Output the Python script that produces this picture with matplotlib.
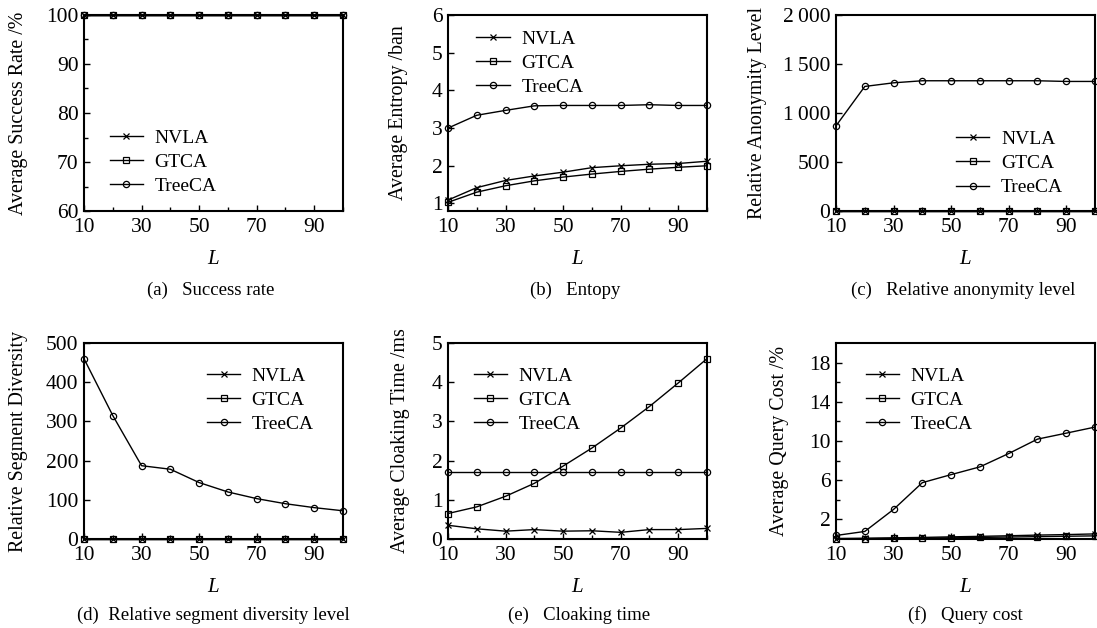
import matplotlib.pyplot as plt
from matplotlib.ticker import FixedLocator, FuncFormatter

plt.rcParams['font.family'] = ['Liberation Serif', 'DejaVu Serif']
plt.rcParams['mathtext.fontset'] = 'custom'
plt.rcParams['mathtext.it'] = 'Liberation Serif:italic'

L = [10, 20, 30, 40, 50, 60, 70, 80, 90, 100]
series_names = ['NVLA', 'GTCA', 'TreeCA']

# (a) success rate
succ_nvla = [100, 100, 100, 100, 100, 100, 100, 100, 100, 100]
succ_gtca = [100, 100, 100, 100, 100, 100, 100, 100, 100, 100]
succ_tree = [100, 100, 100, 100, 100, 100, 100, 100, 100, 100]

# (b) entropy
ent_nvla = [1.09, 1.42, 1.61, 1.73, 1.83, 1.95, 2.00, 2.04, 2.06, 2.12]
ent_gtca = [1.03, 1.30, 1.47, 1.60, 1.70, 1.78, 1.85, 1.91, 1.96, 2.00]
ent_tree = [3.00, 3.34, 3.47, 3.59, 3.60, 3.60, 3.60, 3.62, 3.60, 3.60]

# (c) relative anonymity level
anon_nvla = [2, 2, 2, 2, 2, 2, 2, 2, 2, 2]
anon_gtca = [3, 3, 3, 3, 3, 3, 3, 3, 3, 3]
anon_tree = [869, 1271, 1308, 1329, 1329, 1329, 1329, 1329, 1322, 1322]

# (d) relative segment diversity
div_nvla = [1, 1, 1, 1, 1, 1, 1, 1, 1, 1]
div_gtca = [1, 1, 1, 1, 1, 1, 1, 1, 1, 1]
div_tree = [460, 315, 187, 178, 144, 120, 103, 90, 80, 72]

# (e) cloaking time
time_nvla = [0.35, 0.26, 0.20, 0.24, 0.20, 0.21, 0.17, 0.24, 0.24, 0.27]
time_gtca = [0.65, 0.82, 1.09, 1.42, 1.86, 2.32, 2.83, 3.38, 3.98, 4.60]
time_tree = [1.71, 1.71, 1.71, 1.71, 1.71, 1.71, 1.71, 1.71, 1.71, 1.71]

# (f) query cost
cost_nvla = [0.05, 0.08, 0.12, 0.16, 0.22, 0.27, 0.33, 0.40, 0.45, 0.52]
cost_gtca = [0.00, 0.03, 0.06, 0.09, 0.12, 0.16, 0.20, 0.24, 0.28, 0.32]
cost_tree = [0.36, 0.77, 3.02, 5.75, 6.57, 7.36, 8.72, 10.19, 10.80, 11.42]

W, H = 1097, 628
fig = plt.figure(figsize=(W / 100, H / 100), dpi=100)

col_left = [84, 448, 836]
row_top = [15, 343]
ax_w, ax_h = 259, 196


def make_axes(col, row):
    left = col_left[col] / W
    bottom = (H - row_top[row] - ax_h) / H
    return fig.add_axes([left, bottom, ax_w / W, ax_h / H])


def draw_panel(ax, ys, ylim, yticks, ylabel, ylabel_x, leg_xy, caption,
               cap_xy, yminor=None, yfmt=None):
    markers = ['x', 's', 'o']
    for y, name, m in zip(ys, series_names, markers):
        ax.plot(L, y, color='black', lw=1.0, marker=m, ms=4.5, mew=0.9,
                mfc='none', label=name, clip_on=False)
    ax.set_xlim(10, 100)
    ax.set_ylim(*ylim)
    ax.set_xticks([10, 30, 50, 70, 90])
    ax.xaxis.set_minor_locator(FixedLocator([20, 40, 60, 80, 100]))
    ax.set_yticks(yticks)
    if yminor is not None:
        ax.yaxis.set_minor_locator(FixedLocator(yminor))
    if yfmt is not None:
        ax.yaxis.set_major_formatter(FuncFormatter(yfmt))
    ax.tick_params(which='both', direction='in', labelsize=15.5, width=1.0)
    ax.tick_params(axis='x', pad=5)
    ax.tick_params(axis='y', pad=4)
    ax.tick_params(which='major', length=4)
    ax.tick_params(which='minor', length=3)
    for sp in ax.spines.values():
        sp.set_linewidth(1.5)
    ax.set_ylabel(ylabel, fontsize=14.4)
    ax.yaxis.set_label_coords(ylabel_x, 0.5)
    ax.set_xlabel('$L$', fontsize=15)
    ax.xaxis.set_label_coords(0.5, -0.2)
    ax.legend(loc='upper left', bbox_to_anchor=leg_xy, frameon=False,
              fontsize=14, borderpad=0, borderaxespad=0, handlelength=1.7,
              handletextpad=0.6, labelspacing=0.33)
    ax.text(cap_xy[0], cap_xy[1], caption, transform=ax.transAxes,
            ha='center', va='center', fontsize=13.5)


def thousands(v, pos):
    v = int(round(v))
    if v >= 1000:
        return f'{v // 1000}\u2009{v % 1000:03d}'
    return str(v)


ax = make_axes(0, 0)
draw_panel(ax, [succ_nvla, succ_gtca, succ_tree], (60, 100),
           [60, 70, 80, 90, 100], 'Average Success Rate /%', -0.216,
           (0.10, 0.418), '(a)   Success rate', (0.488, -0.403),
           yminor=[65, 75, 85, 95])

ax = make_axes(1, 0)
draw_panel(ax, [ent_nvla, ent_gtca, ent_tree], (0.8, 6),
           [1, 2, 3, 4, 5, 6], 'Average Entropy /ban', -0.154,
           (0.11, 0.921), '(b)   Entopy', (0.49, -0.403))

ax = make_axes(2, 0)
draw_panel(ax, [anon_nvla, anon_gtca, anon_tree], (0, 2000),
           [0, 500, 1000, 1500, 2000], 'Relative Anonymity Level', -0.266,
           (0.465, 0.41), '(c)   Relative anonymity level', (0.49, -0.403),
           yfmt=thousands)

ax = make_axes(0, 1)
draw_panel(ax, [div_nvla, div_gtca, div_tree], (0, 500),
           [0, 100, 200, 300, 400, 500], 'Relative Segment Diversity', -0.216,
           (0.475, 0.875), '(d)  Relative segment diversity level',
           (0.5, -0.388))

ax = make_axes(1, 1)
draw_panel(ax, [time_nvla, time_gtca, time_tree], (0, 5),
           [0, 1, 2, 3, 4, 5], 'Average Cloaking Time /ms', -0.147,
           (0.10, 0.875), '(e)   Cloaking time', (0.505, -0.388))

ax = make_axes(2, 1)
draw_panel(ax, [cost_nvla, cost_gtca, cost_tree], (0, 20),
           [2, 6, 10, 14, 18], 'Average Query Cost /%', -0.18,
           (0.115, 0.875), '(f)   Query cost', (0.5, -0.388),
           yminor=[4, 8, 12, 16])

fig.savefig('out.png', dpi=100)
